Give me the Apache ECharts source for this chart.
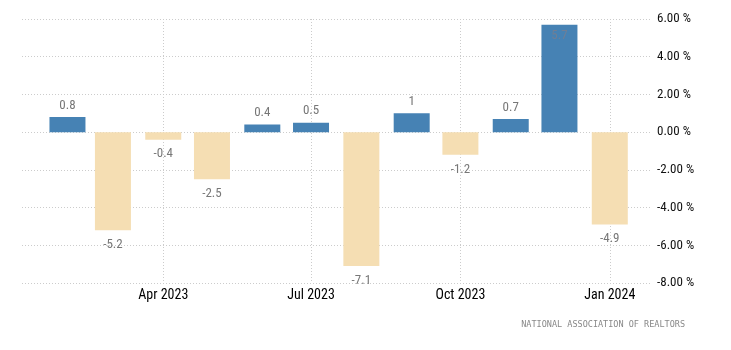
<!DOCTYPE html>
<html>
<head>
<meta charset="utf-8">
<style>
html,body{margin:0;padding:0;background:#fff;}
#chart{width:731px;height:350px;}
</style>
<script src="https://cdn.jsdelivr.net/npm/echarts@6/dist/echarts.min.js"></script>
</head>
<body>
<div id="chart"></div>
<script>
// Monthly change (%), Feb 2023 - Jan 2024
var months = ['2023-02-01','2023-03-01','2023-04-01','2023-05-01','2023-06-01','2023-07-01',
              '2023-08-01','2023-09-01','2023-10-01','2023-11-01','2023-12-01','2024-01-01'];
var values = [0.8, -5.2, -0.4, -2.5, 0.4, 0.5, -7.1, 1, -1.2, 0.7, 5.7, -4.9];
var tickDates = ['2023-04-01','2023-07-01','2023-10-01','2024-01-01'];
var tickLabels = ['Apr 2023','Jul 2023','Oct 2023','Jan 2024'];
var yTicks = [-8, -6, -4, -2, 0, 2, 4, 6];
var xRange = ['2023-01-04','2024-01-27'];
var source = 'NATIONAL ASSOCIATION OF REALTORS';

function ts(s){ var p = s.split('-'); return Date.UTC(+p[0], +p[1]-1, +p[2]); }

var FONT = "'Roboto Condensed','DejaVu Sans Condensed',sans-serif";
var tickTs = tickDates.map(ts);

var data = months.map(function(m, i){
  var v = values[i];
  var item = {
    value: [ts(m), v],
    itemStyle: { color: v >= 0 ? '#4682B4' : '#F5DEB3' },
    label: { position: v >= 0 ? 'top' : 'bottom', distance: v >= 0 ? 5 : 8 }
  };
  if (v >= 5) item.label = { position: 'insideTop', distance: 5, color: '#6f7f95' };
  return item;
});

var chart = echarts.init(document.getElementById('chart'), null, {renderer: 'canvas'});
chart.setOption({
  animation: false,
  backgroundColor: '#fff',
  grid: { left: 22, right: 79, top: 19, bottom: 67, containLabel: false },
  xAxis: {
    type: 'value',
    min: ts(xRange[0]),
    max: ts(xRange[1]),
    axisLine: { show: false },
    axisTick: { show: false, customValues: tickTs },
    axisLabel: {
      customValues: tickTs,
      color: '#000',
      fontFamily: FONT,
      fontSize: 14,
      margin: 5,
      formatter: function(v){
        var i = tickTs.indexOf(v);
        return i >= 0 ? tickLabels[i] : '';
      }
    },
    splitLine: { show: true, lineStyle: { color: '#cccccc', type: [1, 2], width: 1 } }
  },
  yAxis: {
    type: 'value',
    position: 'right',
    min: yTicks[0],
    max: yTicks[yTicks.length - 1],
    interval: 2,
    axisLine: { show: false },
    axisTick: { show: false },
    axisLabel: {
      color: '#111',
      fontFamily: FONT,
      fontSize: 13,
      margin: 5,
      formatter: function(v){ return v.toFixed(2) + ' %'; }
    },
    splitLine: { show: true, lineStyle: { color: '#cccccc', type: [1, 2], width: 1 } }
  },
  series: [{
    type: 'bar',
    barWidth: 36,
    data: data,
    label: {
      show: true,
      color: '#777',
      fontFamily: FONT,
      fontSize: 13,
      formatter: function(p){ return String(p.value[1]); }
    }
  }],
  graphic: [{
    type: 'text',
    right: 46,
    top: 320,
    style: {
      text: source,
      fill: '#888',
      font: "8.5px 'DejaVu Sans Mono', monospace"
    }
  }]
});
</script>
</body>
</html>
